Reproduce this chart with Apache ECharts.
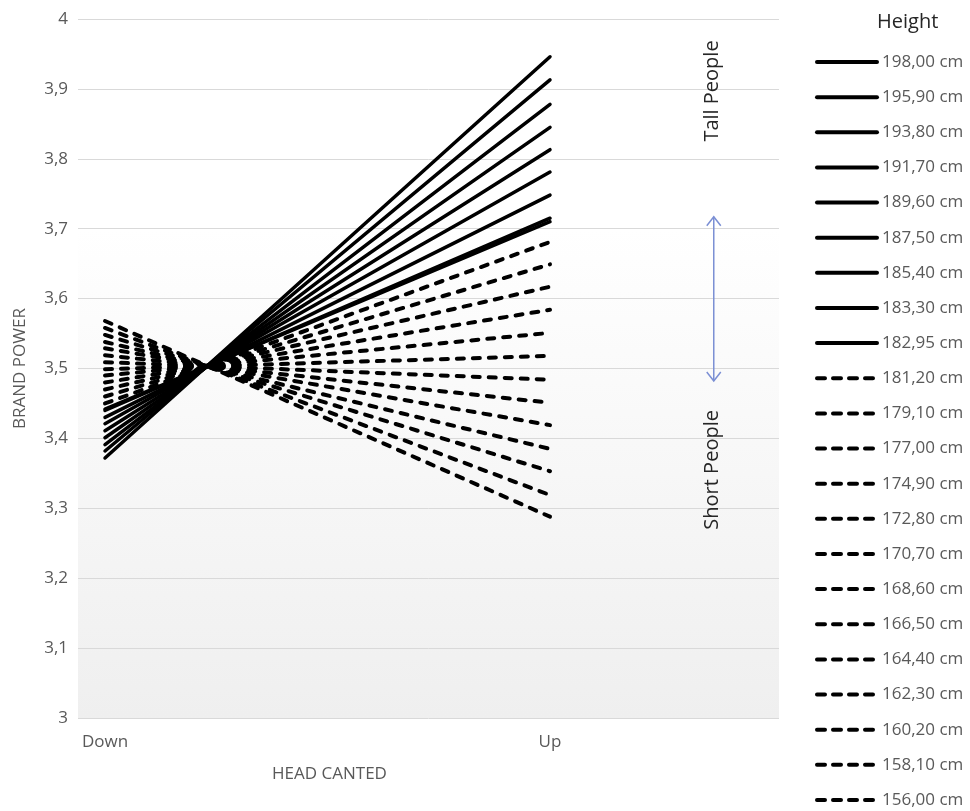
<!DOCTYPE html>
<html>
<head>
<meta charset="utf-8">
<script src="https://cdn.jsdelivr.net/npm/echarts@6/dist/echarts.min.js"></script>
<style>
  html, body { margin: 0; padding: 0; background: #ffffff; }
  #chart { width: 970px; height: 811px; }
</style>
</head>
<body>
<div id="chart"></div>
<script>
// ---- data ----
const categories = ['Down', 'Up'];
const heightsCm = [198.00, 195.90, 193.80, 191.70, 189.60, 187.50, 185.40, 183.30, 182.95,
                   181.20, 179.10, 177.00, 174.90, 172.80, 170.70, 168.60, 166.50, 164.40,
                   162.30, 160.20, 158.10, 156.00];
const heightLabels = ['198,00 cm', '195,90 cm', '193,80 cm', '191,70 cm', '189,60 cm', '187,50 cm',
                      '185,40 cm', '183,30 cm', '182,95 cm', '181,20 cm', '179,10 cm', '177,00 cm',
                      '174,90 cm', '172,80 cm', '170,70 cm', '168,60 cm', '166,50 cm', '164,40 cm',
                      '162,30 cm', '160,20 cm', '158,10 cm', '156,00 cm'];
const downValues = [3.372, 3.382, 3.391, 3.401, 3.411, 3.421, 3.430, 3.440, 3.442,
                    3.450, 3.460, 3.470, 3.480, 3.490, 3.499, 3.509, 3.519, 3.529,
                    3.538, 3.548, 3.558, 3.568];
const upValues = [3.946, 3.913, 3.878, 3.845, 3.813, 3.781, 3.748, 3.715, 3.710,
                  3.681, 3.649, 3.617, 3.584, 3.551, 3.518, 3.484, 3.451, 3.419,
                  3.385, 3.353, 3.319, 3.288];
const yTicks = [3, 3.1, 3.2, 3.3, 3.4, 3.5, 3.6, 3.7, 3.8, 3.9, 4];
const tallMinHeight = 182.95;

// ---- chart ----
const FONT = 'Open Sans';
const chart = echarts.init(document.getElementById('chart'), null, { renderer: 'canvas' });

const isTall = i => heightsCm[i] >= tallMinHeight;

const series = heightLabels.map((name, i) => ({
  name: name,
  type: 'line',
  symbol: 'none',
  silent: true,
  animation: false,
  data: categories.map((c, k) => [k, k === 0 ? downValues[i] : upValues[i]]),
  lineStyle: isTall(i)
    ? { color: '#000000', width: 3.5, type: 'solid', cap: 'round' }
    : { color: '#000000', width: 4, type: [7, 9], cap: 'round' },
  itemStyle: { color: '#000000' }
}));

const legendData = heightLabels.map((name, i) => ({
  name: name,
  itemStyle: { opacity: 0 },
  lineStyle: isTall(i)
    ? { width: 4, type: 'solid', cap: 'round', color: '#000000' }
    : { width: 4, type: [8, 8], cap: 'round', color: '#000000' }
}));

chart.setOption({
  animation: false,
  textStyle: { fontFamily: FONT },
  grid: {
    left: 78, right: 191, top: 19, bottom: 93,
    show: true,
    borderWidth: 0,
    backgroundColor: new echarts.graphic.LinearGradient(0, 0, 0, 1, [
      { offset: 0, color: '#ffffff' },
      { offset: 0.3, color: '#ffffff' },
      { offset: 1, color: '#efefef' }
    ])
  },
  xAxis: {
    type: 'value',
    min: -0.0607,
    max: 1.5146,
    splitLine: { show: false },
    axisLine: { show: false },
    axisTick: { show: false },
    axisLabel: {
      customValues: [0, 1],
      formatter: v => categories[Math.round(v)] || '',
      color: '#595959',
      fontSize: 17,
      fontFamily: FONT,
      margin: 16
    },
    name: 'HEAD CANTED',
    nameLocation: 'middle',
    nameGap: 48,
    nameTextStyle: { color: '#595959', fontSize: 17, fontFamily: FONT, padding: [0, 198, 0, 0] }
  },
  yAxis: {
    type: 'value',
    min: 3,
    max: 4,
    interval: 0.1,
    axisLine: { show: false },
    axisTick: { show: false },
    splitLine: { show: true, lineStyle: { color: '#d9d9d9', width: 1 } },
    axisLabel: {
      formatter: v => String(Math.round(v * 10) / 10).replace('.', ','),
      color: '#595959',
      fontSize: 17,
      fontFamily: FONT,
      margin: 10
    },
    name: 'BRAND POWER',
    nameLocation: 'middle',
    nameGap: 49,
    nameTextStyle: { color: '#595959', fontSize: 17, fontFamily: FONT }
  },
  legend: {
    orient: 'vertical',
    left: 815,
    top: 53,
    padding: 0,
    itemWidth: 60,
    itemHeight: 18,
    itemGap: 17.14,
    selectedMode: false,
    data: legendData,
    textStyle: { color: '#595959', fontSize: 17, fontFamily: FONT, lineHeight: 18 }
  },
  series: series
});

// ---- annotations (positioned from data coordinates) ----
const annX = 1.364;
const pTall = chart.convertToPixel({ gridIndex: 0 }, [annX, 3.897]);
const pShort = chart.convertToPixel({ gridIndex: 0 }, [annX, 3.355]);
const pArrTop = chart.convertToPixel({ gridIndex: 0 }, [annX + 0.004, 3.717]);
const pArrBot = chart.convertToPixel({ gridIndex: 0 }, [annX + 0.004, 3.482]);
const arrowColor = '#7b8fd4';
const ah = 9, aw = 7;

chart.setOption({
  graphic: [
    {
      type: 'text',
      left: 877, top: 12,
      style: { text: 'Height', fill: '#262626', font: '20px "Open Sans"' }
    },
    {
      type: 'text',
      x: pTall[0], y: pTall[1],
      rotation: Math.PI / 2,
      style: { text: 'Tall People', fill: '#262626', font: '20px "Open Sans"', align: 'center', verticalAlign: 'middle' }
    },
    {
      type: 'text',
      x: pShort[0], y: pShort[1],
      rotation: Math.PI / 2,
      style: { text: 'Short People', fill: '#262626', font: '20px "Open Sans"', align: 'center', verticalAlign: 'middle' }
    },
    {
      type: 'line',
      shape: { x1: pArrTop[0], y1: pArrTop[1], x2: pArrBot[0], y2: pArrBot[1] },
      style: { stroke: arrowColor, lineWidth: 1.5 }
    },
    {
      type: 'polyline',
      shape: { points: [[pArrTop[0] - aw, pArrTop[1] + ah], [pArrTop[0], pArrTop[1]], [pArrTop[0] + aw, pArrTop[1] + ah]] },
      style: { stroke: arrowColor, lineWidth: 1.5, fill: null }
    },
    {
      type: 'polyline',
      shape: { points: [[pArrBot[0] - aw, pArrBot[1] - ah], [pArrBot[0], pArrBot[1]], [pArrBot[0] + aw, pArrBot[1] - ah]] },
      style: { stroke: arrowColor, lineWidth: 1.5, fill: null }
    }
  ]
});
</script>
</body>
</html>
